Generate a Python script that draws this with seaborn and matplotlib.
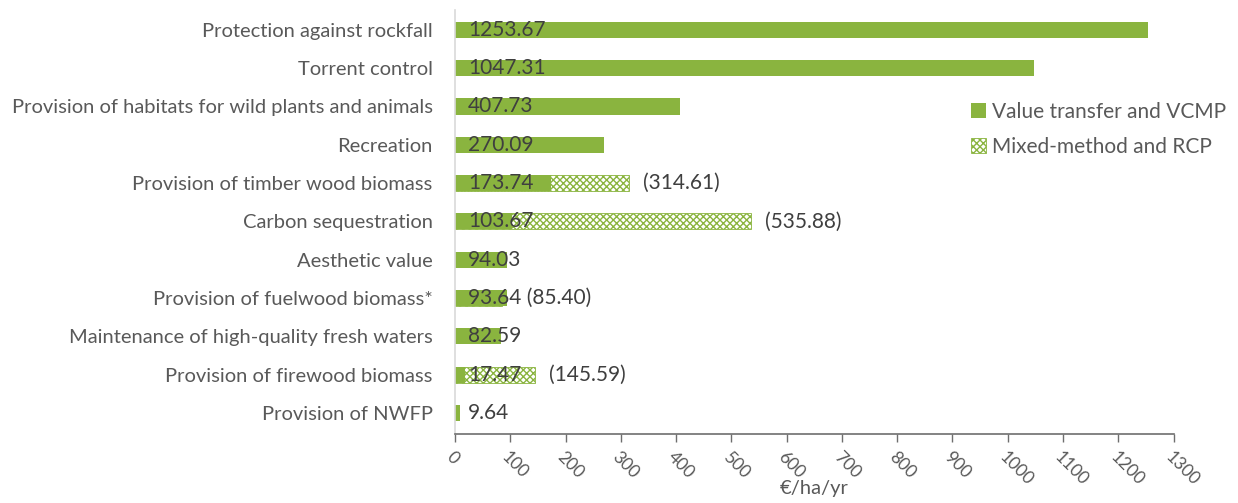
import numpy as np
import pandas as pd
import matplotlib
matplotlib.use("Agg")
import matplotlib.pyplot as plt
import seaborn as sns

categories = [
    "Protection against rockfall",
    "Torrent control",
    "Provision of habitats for wild plants and animals",
    "Recreation",
    "Provision of timber wood biomass",
    "Carbon sequestration",
    "Aesthetic value",
    "Provision of fuelwood biomass*",
    "Maintenance of high-quality fresh waters",
    "Provision of firewood biomass",
    "Provision of NWFP",
]
value_transfer = [1253.67, 1047.31, 407.73, 270.09, 173.74, 103.67, 94.03, 93.64, 82.59, 17.47, 9.64]
mixed_method = [np.nan, np.nan, np.nan, np.nan, 314.61, 535.88, np.nan, 85.40, np.nan, 145.59, np.nan]
x_ticks = list(range(0, 1301, 100))

sns.set_theme(style="white")
plt.rcParams["font.family"] = ["Lato", "DejaVu Sans"]

GREEN = "#8ab43f"
TEXT = "#595959"
DARK = "#3f3f3f"

df = pd.DataFrame({"category": categories, "vt": value_transfer, "mm": mixed_method})

fig = plt.figure(figsize=(12.38, 5.03), dpi=100)
ax = fig.add_axes([0.3675, 0.1372, 0.5805, 0.843])

sns.barplot(data=df, y="category", x="mm", orient="h", ax=ax, color="white",
            edgecolor=GREEN, linewidth=0.6, hatch="xxxxx", width=0.42,
            saturation=1, label="Mixed-method and RCP")
sns.barplot(data=df, y="category", x="vt", orient="h", ax=ax, color=GREEN,
            edgecolor=GREEN, linewidth=0, width=0.42, saturation=1,
            label="Value transfer and VCMP")

for i, (v, m) in enumerate(zip(value_transfer, mixed_method)):
    txt = f"{v:.2f}"
    if not np.isnan(m):
        if m > v:
            ax.text(m + 25, i, f"({m:.2f})", va="center", ha="left", fontsize=15, color=DARK)
        else:
            txt = f"{txt} ({m:.2f})"
    ax.text(24, i, txt, va="center", ha="left", fontsize=15, color=DARK)

ax.set_xlim(0, 1300)
ax.set_ylim(10.55, -0.52)
ax.set_xticks(x_ticks)
ax.set_xticklabels([str(t) for t in x_ticks], rotation=-45, ha="left", va="top",
                   rotation_mode="anchor", fontsize=12.5, color=TEXT)
ax.tick_params(axis="x", length=6, width=1, color="#6e6e6e", direction="out", bottom=True, pad=5)
ax.tick_params(axis="y", length=0, labelsize=14.5, labelcolor=TEXT, pad=16)
ax.set_ylabel("")
ax.set_xlabel("€/ha/yr", fontsize=14.5, color=TEXT)
ax.xaxis.set_label_coords(0.5, -0.108)

for s in ["top", "right"]:
    ax.spines[s].set_visible(False)
ax.spines["left"].set_color("#d9d9d9")
ax.spines["left"].set_linewidth(1.2)
ax.spines["bottom"].set_color("#6e6e6e")
ax.spines["bottom"].set_linewidth(1.2)

handles, labels = ax.get_legend_handles_labels()
order = [labels.index("Value transfer and VCMP"), labels.index("Mixed-method and RCP")]
ax.legend([handles[k] for k in order], [labels[k] for k in order],
          loc="upper left", bbox_to_anchor=(0.692, 0.828), frameon=False,
          fontsize=15, labelcolor=TEXT, handlelength=0.7, handleheight=0.7,
          handletextpad=0.3, labelspacing=0.72)

fig.savefig("out.png", dpi=100)
